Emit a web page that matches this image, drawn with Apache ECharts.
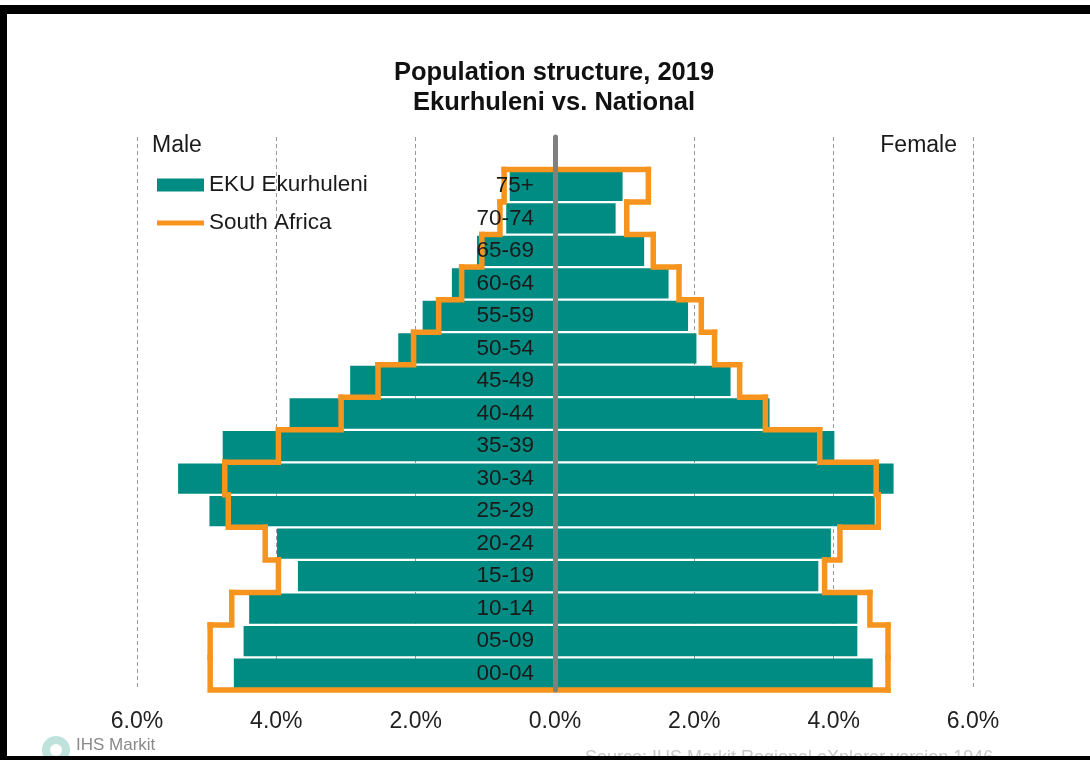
<!DOCTYPE html>
<html><head><meta charset="utf-8">
<script src="https://cdn.jsdelivr.net/npm/echarts@6/dist/echarts.min.js"></script>
<style>html,body{margin:0;padding:0;background:#fff}#c{width:1090px;height:760px}</style>
</head><body><div id="c"></div>
<script>
// Age groups, top to bottom
const ageGroups = ['75+','70-74','65-69','60-64','55-59','50-54','45-49','40-44','35-39','30-34','25-29','20-24','15-19','10-14','05-09','00-04'];
// EKU Ekurhuleni (% of population)
const ekuMale   = [0.65,0.70,1.12,1.48,1.90,2.25,2.94,3.81,4.77,5.41,4.96,3.99,3.69,4.39,4.47,4.61];
const ekuFemale = [0.97,0.87,1.28,1.63,1.91,2.03,2.52,3.08,4.01,4.86,4.59,3.96,3.78,4.34,4.34,4.56];
// South Africa (% of population)
const saMale    = [0.73,0.79,1.05,1.34,1.67,2.03,2.54,3.07,3.97,4.74,4.69,4.16,3.97,4.64,4.95,4.95];
const saFemale  = [1.34,1.03,1.41,1.78,2.10,2.29,2.65,3.02,3.80,4.61,4.64,4.09,3.87,4.52,4.78,4.78];
const xTickValues = [-6,-4,-2,0,2,4,6];

const FONT = 'Liberation Sans, Arial, sans-serif';
const TEAL = '#008C82';
const ORANGE = '#F7941D';

const yCats = [''].concat(ageGroups);
const pad = arr => [null].concat(arr);

const chart = echarts.init(document.getElementById('c'));
chart.setOption({
  backgroundColor: '#fff',
  animation: false,
  textStyle: {fontFamily: FONT},
  grid: {left: 137, right: 117, top: 137, bottom: 70, containLabel: false},
  legend: {
    orient: 'vertical', left: 152, top: 168,
    itemWidth: 47, itemHeight: 13, itemGap: 14,
    selectedMode: false,
    textStyle: {fontSize: 22.5, lineHeight: 24, color: '#1a1a1a', fontFamily: FONT},
    data: [
      {name: 'EKU Ekurhuleni', icon: 'rect'},
      {name: 'South Africa', icon: 'path://M0,0 L100,0 L100,11 L0,11 Z'}
    ]
  },
  xAxis: {
    type: 'value', min: -6, max: 6, interval: 2,
    axisLine: {show: false}, axisTick: {show: false},
    axisLabel: {
      fontSize: 23, color: '#222', margin: 20, fontFamily: FONT,
      formatter: v => xTickValues.indexOf(v) >= 0 ? Math.abs(v).toFixed(1) + '%' : ''
    },
    splitLine: {show: true, lineStyle: {color: '#9a9a9a', width: 1, type: [4, 3]}}
  },
  yAxis: {
    type: 'category', data: yCats, inverse: true, z: 10,
    offset: -418,
    axisLine: {show: true, onZero: false, lineStyle: {color: '#808080', width: 5}},
    axisTick: {show: false},
    axisLabel: {fontSize: 22.5, color: '#1a1a1a', margin: 21, fontFamily: FONT},
    splitLine: {show: false}
  },
  series: [
    {name: 'EKU Ekurhuleni', type: 'bar', stack: 'eku', barCategoryGap: '7%',
     itemStyle: {color: TEAL}, data: pad(ekuMale.map(v => -v))},
    {name: 'EKU Ekurhuleni', type: 'bar', stack: 'eku', barCategoryGap: '7%',
     itemStyle: {color: TEAL}, data: pad(ekuFemale)},
    {name: 'South Africa', type: 'custom', z: 5,
     itemStyle: {color: ORANGE},
     encode: {y: 0, x: 2},
     data: ageGroups.map((g, i) => [i + 1, saMale[i], saFemale[i]]),
     renderItem: function (params, api) {
       const i = params.dataIndex;
       const k = api.value(0);
       const cy = api.coord([0, k])[1];
       const h = Math.abs(api.coord([0, k + 1])[1] - cy) || Math.abs(cy - api.coord([0, k - 1])[1]);
       const top = cy - h / 2, bot = cy + h / 2;
       const X = v => api.coord([v, k])[0];
       const xm = X(-api.value(1)), xf = X(api.value(2));
       const last = i === ageGroups.length - 1;
       const style = {stroke: ORANGE, lineWidth: 5.5, fill: null, lineJoin: 'miter', lineCap: 'square'};
       const children = [];
       const mPts = [[xm, top], [xm, bot]];
       const fPts = [[xf, top], [xf, bot]];
       if (!last) {
         mPts.push([X(-saMale[i + 1]), bot]);
         fPts.push([X(saFemale[i + 1]), bot]);
       } else {
         mPts.push([xf, bot]);
       }
       children.push({type: 'polyline', shape: {points: mPts}, style: style});
       children.push({type: 'polyline', shape: {points: fPts}, style: style});
       if (i === 0) children.push({type: 'polyline', shape: {points: [[xm, top], [xf, top]]}, style: style});
       return {type: 'group', children: children};
     }
    }
  ],
  graphic: [
    {type: 'text', x: 554, y: 58, style: {text: 'Population structure, 2019\nEkurhuleni vs. National', textAlign: 'center', textVerticalAlign: 'top', font: 'bold 25.5px ' + FONT, lineHeight: 30, fill: '#111'}},
    {type: 'text', x: 152, y: 146, style: {text: 'Male', textVerticalAlign: 'middle', font: '23px ' + FONT, fill: '#1a1a1a'}},
    {type: 'text', x: 957, y: 146, style: {text: 'Female', textAlign: 'right', textVerticalAlign: 'middle', font: '23px ' + FONT, fill: '#1a1a1a'}},
    {type: 'circle', shape: {cx: 56, cy: 750, r: 14}, style: {fill: '#bfe3dc'}},
    {type: 'circle', shape: {cx: 56, cy: 750, r: 6}, style: {fill: '#ffffff'}},
    {type: 'text', x: 76, y: 737, style: {text: 'IHS Markit', font: '17px ' + FONT, fill: '#8a8a8a'}},
    {type: 'text', x: 585, y: 749, style: {text: 'Source: IHS Markit Regional eXplorer version 1946', font: '18px ' + FONT, fill: '#c8c8c8'}},
    {type: 'rect', shape: {x: 0, y: 5, width: 1090, height: 9}, style: {fill: '#000'}, z: 100},
    {type: 'rect', shape: {x: 0, y: 5, width: 7, height: 755}, style: {fill: '#000'}, z: 100},
    {type: 'rect', shape: {x: 0, y: 756, width: 1090, height: 4}, style: {fill: '#000'}, z: 100}
  ]
});
</script>
</body></html>
